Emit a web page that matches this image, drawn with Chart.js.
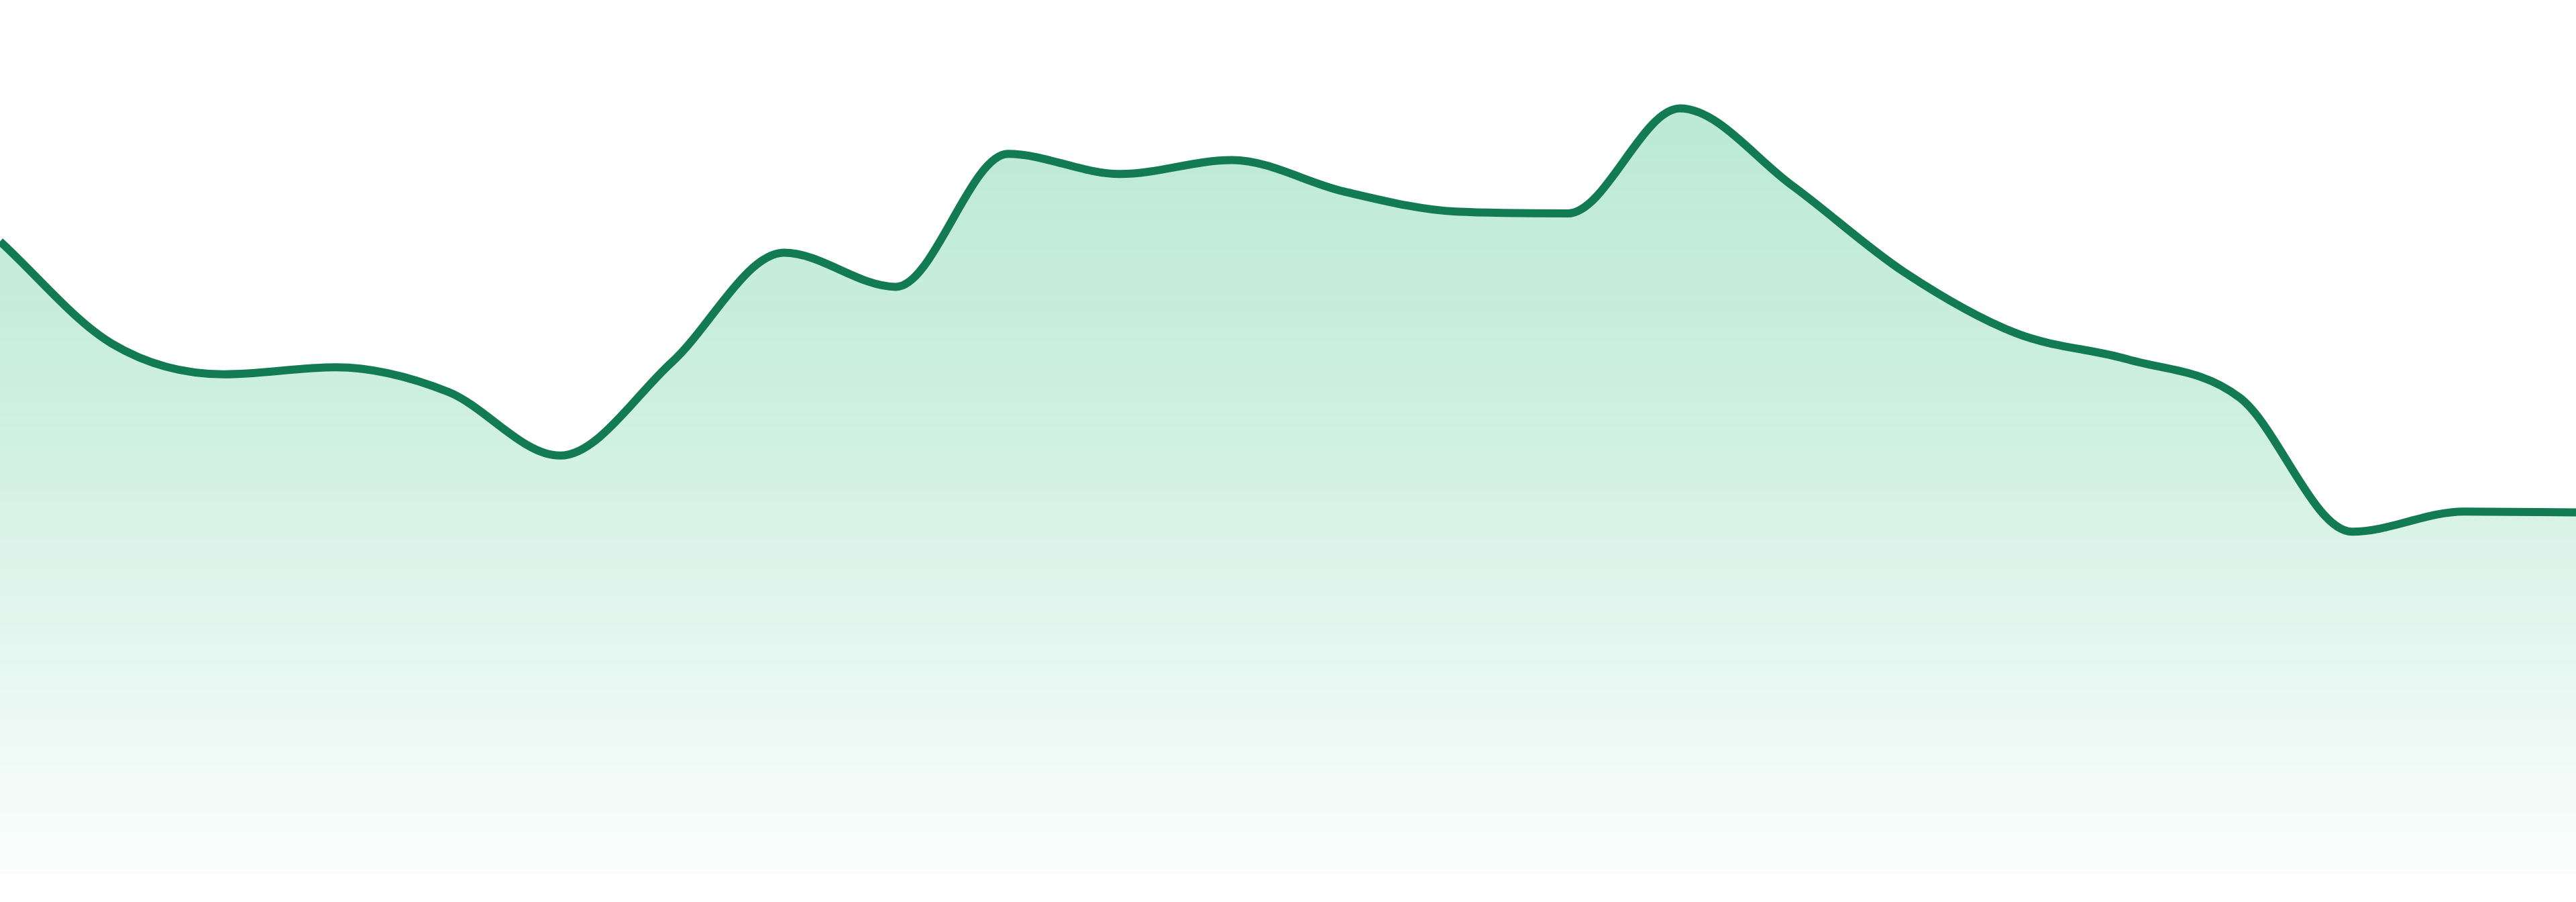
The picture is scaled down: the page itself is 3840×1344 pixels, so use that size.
<!DOCTYPE html>
<html>
<head>
<meta charset="utf-8">
<style>
  html, body { margin: 0; padding: 0; background: #ffffff; }
  .wrap { position: relative; width: 3840px; height: 1344px; }
</style>
<script src="https://cdn.jsdelivr.net/npm/chart.js@4.4.1/dist/chart.umd.min.js"></script>
</head>
<body>
<div class="wrap"><canvas id="trendChart"></canvas></div>
<script>
// Kategori (per jam)
const hours = [
    '00:00', '01:00', '02:00', '03:00', '04:00', '05:00', '06:00', '07:00',
    '08:00', '09:00', '10:00', '11:00', '12:00', '13:00', '14:00', '15:00',
    '16:00', '17:00', '18:00', '19:00', '20:00', '21:00', '22:00', '23:00'
];

// Nilai seri
const values = [
    72.4, 60.7, 57.2, 58.0, 55.2, 47.9, 58.6, 71.1,
    67.2, 82.4, 80.1, 81.7, 78.1, 75.8, 75.6, 87.6,
    78.8, 68.9, 61.9, 58.9, 54.5, 39.2, 41.5, 41.4
];

// Batas sumbu y
const yMin = 0;
const yMax = 100;

const LINE_COLOR = 'rgb(18, 123, 83)';

// Gradien isi area, ikut chartArea
const areaGradient = (context) => {
    const { ctx, chartArea } = context.chart;
    if (!chartArea) return 'rgba(25, 180, 120, 0.2)';
    const g = ctx.createLinearGradient(0, chartArea.top, 0, chartArea.bottom);
    g.addColorStop(0, 'rgba(25, 180, 120, 0.32)');
    g.addColorStop(0.45, 'rgba(25, 180, 120, 0.22)');
    g.addColorStop(1, 'rgba(25, 180, 120, 0.02)');
    return g;
};

const config = {
    type: 'line',
    data: {
        labels: hours,
        datasets: [{
            data: values,
            borderColor: LINE_COLOR,
            borderWidth: 12,
            backgroundColor: areaGradient,
            fill: 'start',
            pointRadius: 0,
            pointHoverRadius: 0,
            cubicInterpolationMode: 'monotone'
        }]
    },
    options: {
        responsive: true,
        maintainAspectRatio: false,
        animation: false,
        layout: {
            padding: { top: 0, right: 0, bottom: 41, left: 0 }
        },
        plugins: {
            legend: { display: false },
            tooltip: { enabled: false }
        },
        scales: {
            x: {
                display: false,
                offset: false
            },
            y: {
                display: false,
                min: yMin,
                max: yMax
            }
        }
    }
};

const ctx = document.getElementById('trendChart').getContext('2d');
const trendChart = new Chart(ctx, config);
</script>
</body>
</html>
